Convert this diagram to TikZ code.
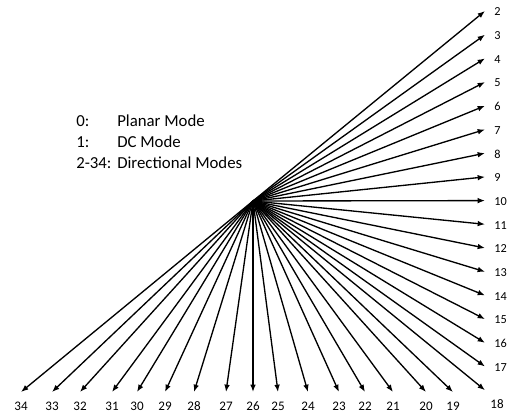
\documentclass[tikz,border=0pt]{standalone}
\usepackage{fontspec}
\setmainfont{Carlito}
\usetikzlibrary{arrows.meta}
\begin{document}
\begin{tikzpicture}[x=0.75pt, y=-0.75pt,
    mode/.style={-{Latex[length=5.5pt,width=4.2pt]}, line width=1pt},
    rightlabel/.style={font=\fontsize{9.2}{10}\selectfont, inner sep=0pt, anchor=west},
    bottomlabel/.style={font=\fontsize{9.8}{11}\selectfont, inner sep=0pt},
    legend/.style={font=\fontsize{12.6}{15}\selectfont, inner sep=0pt, anchor=base west}]
    \useasboundingbox (0,0) rectangle (514,414);

    % Common origin of the directions
    \coordinate (O) at (253,201);

    % Tips on the right edge: modes 2 to 18
    \foreach \m in {2,...,18}
        \coordinate (t\m) at (485,{11+(\m-2)*23.7});

    % Tips on the bottom edge: modes 19 to 34
    \foreach \m/\x in {19/453,20/426,21/393,22/365,23/339,24/308,25/278,26/253,
                       27/226,28/194,29/165,30/137,31/112,32/80,33/52,34/21}
        \coordinate (t\m) at (\x,392);

    % Draw arrows
    \foreach \m in {2,...,34}
        \draw[mode] (O) -- (t\m);

    % Label modes
    \foreach \m in {2,...,17}
        \node[rightlabel] (l\m) at ([xshift=6.8pt,yshift=-0.6pt]t\m) {\m};
    \node[bottomlabel] (l18) at ([xshift=9pt,yshift=-10.5pt]t18) {18};
    \foreach \m in {19,...,34}
        \node[bottomlabel] (l\m) at ([yshift=-10.5pt]t\m) {\m};

    % Legend
    \node[legend] (k0) at (76,126.5) {0:};
    \node[legend] (v0) at (117,126.5) {Planar Mode};
    \node[legend] (k1) at (76,147.5) {1:};
    \node[legend] (v1) at (117,147.5) {DC Mode};
    \node[legend] (k2) at (76,168.5) {2-34:};
    \node[legend] (v2) at (117,168.5) {Directional Modes};

\end{tikzpicture}
\end{document}
